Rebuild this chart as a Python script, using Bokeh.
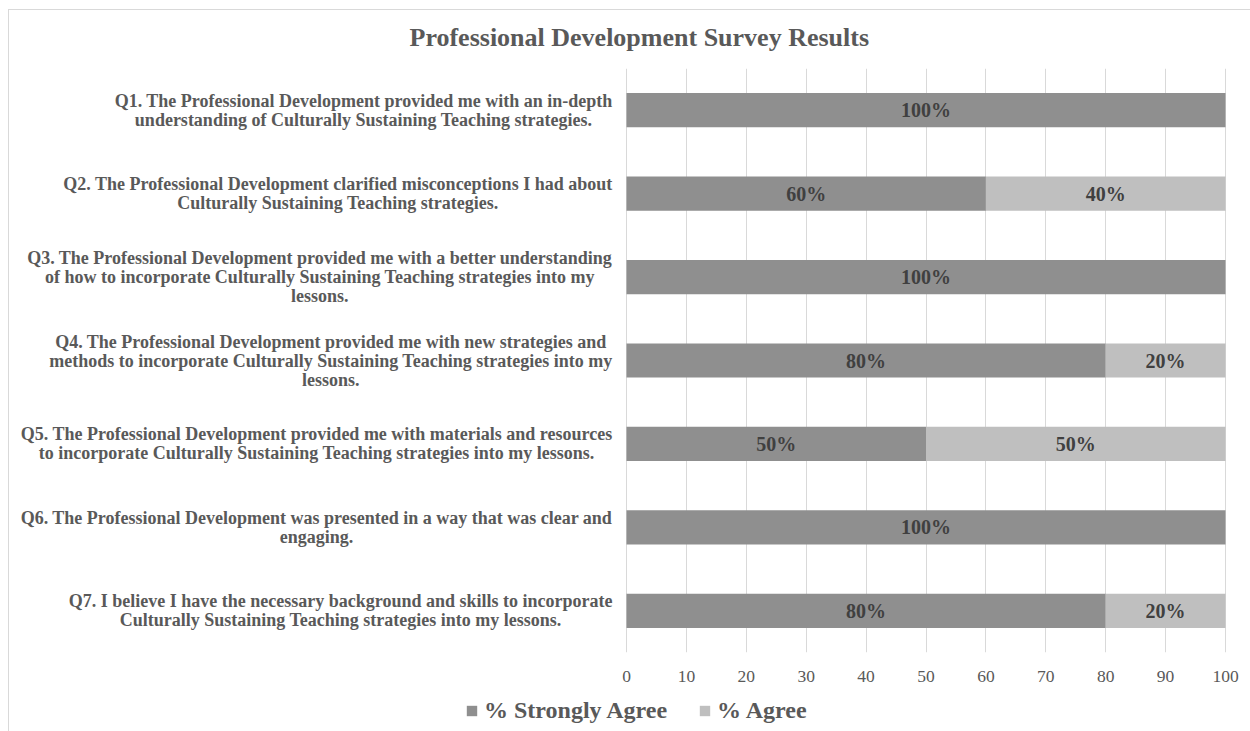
from bokeh.plotting import figure
from bokeh.layouts import column
from bokeh.models import (ColumnDataSource, Label, LabelSet, Legend, LegendItem,
                          FixedTicker, Range1d, InlineStyleSheet)
from bokeh.core.properties import value
from bokeh.embed import file_html
from bokeh.resources import INLINE

# ---- data -------------------------------------------------------------
title_text = "Professional Development Survey Results"
questions = [
    "Q1. The Professional Development provided me with an in-depth\n"
    "understanding of Culturally Sustaining Teaching strategies.",
    "Q2. The Professional Development clarified misconceptions I had about\n"
    "Culturally Sustaining Teaching strategies.",
    "Q3. The Professional Development provided me with a better understanding\n"
    "of how to incorporate Culturally Sustaining Teaching strategies into my\n"
    "lessons.",
    "Q4. The Professional Development provided me with new strategies and\n"
    "methods to incorporate Culturally Sustaining Teaching strategies into my\n"
    "lessons.",
    "Q5. The Professional Development provided me with materials and resources\n"
    "to incorporate Culturally Sustaining Teaching strategies into my lessons.",
    "Q6. The Professional Development was presented in a way that was clear and\n"
    "engaging.",
    "Q7. I believe I have the necessary background and skills to incorporate\n"
    "Culturally Sustaining Teaching strategies into my lessons.",
]
strongly_agree = [100, 60, 100, 80, 50, 100, 80]
agree = [0, 40, 0, 20, 50, 0, 20]
series_names = ["% Strongly Agree", "% Agree"]
series_colors = ["#8f8f8f", "#bfbfbf"]
x_ticks = [0, 10, 20, 30, 40, 50, 60, 70, 80, 90, 100]

# ---- layout / styling -------------------------------------------------
FONT = "Liberation Serif"
TEXT_GREY = "#595959"
GRID_GREY = "#d9d9d9"

W = 1250
CHART_H, LEGEND_H = 695, 36
FRAME_LEFT = 14          # frame reaches far left so the question text fits inside it
BAR_LEFT, BAR_RIGHT = 626, 1225   # pixel span of the 0..100 scale
LABEL_RIGHT = 612        # right edge of the question text

units_per_px = (x_ticks[-1] - x_ticks[0]) / (BAR_RIGHT - BAR_LEFT)
x_start = x_ticks[0] - (BAR_LEFT - FRAME_LEFT) * units_per_px
x_end = x_ticks[-1] + (W - BAR_RIGHT) * units_per_px

n = len(questions)
rows = [i + 0.5 for i in range(n)]
src = ColumnDataSource(dict(row=rows, sa=strongly_agree, ag=agree))

p = figure(width=W, height=CHART_H, output_backend="svg", toolbar_location=None,
           x_range=Range1d(x_start, x_end), y_range=Range1d(n, 0),
           min_border_left=FRAME_LEFT, min_border_right=0,
           min_border_top=68, min_border_bottom=CHART_H - 652)
p.outline_line_color = None
p.background_fill_color = "white"
p.border_fill_color = "white"

# stacked horizontal bars
bars = p.hbar_stack(["sa", "ag"], y="row", height=0.41, color=series_colors,
                    line_color=None, source=src)

# value labels centred on each segment
for series_idx, vals in enumerate((strongly_agree, agree)):
    xs, ys, txt = [], [], []
    for i, v in enumerate(vals):
        if v <= 0:
            continue
        base = strongly_agree[i] if series_idx == 1 else 0
        xs.append(base + v / 2)
        ys.append(rows[i])
        txt.append(f"{v}%")
    lsrc = ColumnDataSource(dict(x=xs, y=ys, t=txt))
    p.add_layout(LabelSet(x="x", y="y", text="t", source=lsrc,
                          text_align="center", text_baseline="middle",
                          text_font=value(FONT), text_font_style="bold",
                          text_font_size=value("20px"), text_color="#404040"))

# question labels, lines centred within each block
for r, q in zip(rows, questions):
    p.add_layout(Label(x=LABEL_RIGHT, x_units="canvas", y=r, y_units="data",
                       text=q, anchor="center_right", text_align="center",
                       text_baseline="middle", text_font=FONT,
                       text_font_style="bold", text_font_size="18px",
                       text_color=TEXT_GREY, text_line_height=0.95))

# grid
p.ygrid.grid_line_color = None
p.xgrid.grid_line_color = GRID_GREY
p.xgrid.ticker = FixedTicker(ticks=x_ticks)

# value axis
p.yaxis.visible = False
xa = p.xaxis[0]
xa.ticker = FixedTicker(ticks=x_ticks)
xa.axis_line_color = None
xa.major_tick_line_color = None
xa.minor_tick_line_color = None
xa.major_tick_out = 0
xa.major_tick_in = 0
xa.major_label_standoff = 18
xa.major_label_text_font = FONT
xa.major_label_text_font_size = "17.5px"
xa.major_label_text_color = TEXT_GREY

# chart title
p.title.text = title_text
p.title.align = "left"
p.title.offset = 409 - FRAME_LEFT
p.title.standoff = 34
p.title.text_font = FONT
p.title.text_font_style = "bold"
p.title.text_font_size = "26px"
p.title.text_color = TEXT_GREY

# legend strip underneath the chart
leg_fig = figure(width=W, height=LEGEND_H, output_backend="svg",
                 toolbar_location=None, x_range=Range1d(0, 100),
                 y_range=Range1d(n, 0),
                 min_border_left=FRAME_LEFT, min_border_right=0,
                 min_border_top=0, min_border_bottom=0)
leg_fig.axis.visible = False
leg_fig.grid.visible = False
leg_fig.outline_line_color = None
leg_fig.background_fill_color = "white"
leg_bars = leg_fig.hbar_stack(["sa", "ag"], y="row", height=0.41,
                              color=series_colors, line_color=None, source=src)
for r in leg_bars:
    r.visible = False
legend = Legend(items=[LegendItem(label=name, renderers=[r])
                       for name, r in zip(series_names, leg_bars)],
                orientation="horizontal", location=(465 - FRAME_LEFT, 7),
                glyph_width=13, glyph_height=13, label_standoff=6, spacing=31,
                padding=0, margin=0, border_line_color=None,
                background_fill_alpha=0,
                label_text_font=FONT, label_text_font_style="bold",
                label_text_font_size="24px", label_text_color=TEXT_GREY)
leg_fig.add_layout(legend)

page = column(p, leg_fig, spacing=0)
# thin frame line around the chart area (left and top edges are visible)
page.stylesheets = [InlineStyleSheet(css="""
:host { position: relative; }
:host::after {
  content: ''; position: absolute; left: 8px; top: 9px;
  width: 1242px; height: 722px; box-sizing: border-box;
  border-left: 1px solid #d9d9d9; border-top: 1px solid #d9d9d9;
  pointer-events: none;
}
""")]

open("out.html", "w").write(file_html(page, INLINE))
